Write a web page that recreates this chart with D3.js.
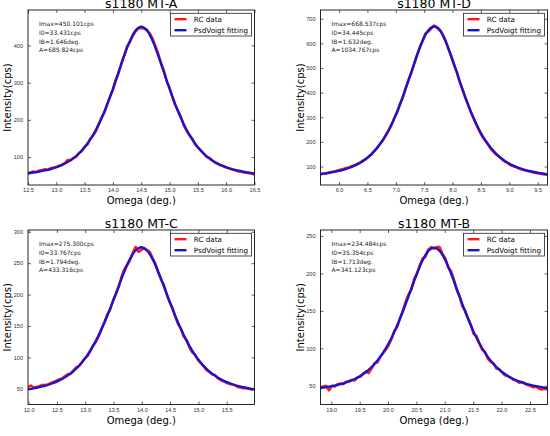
<!DOCTYPE html>
<html>
<head>
<meta charset="utf-8">
<script src="https://cdn.jsdelivr.net/npm/d3@7"></script>
<style>
  body { margin: 0; background: #fff; }
  svg { display: block; font-family: "DejaVu Sans", sans-serif; }
</style>
</head>
<body>
<svg width="550" height="436"></svg>
<script>
// Datos (cps). RC cada 0.05 deg, ajuste cada 0.1 deg
const titulos = ["s1180 MT-A", "s1180 MT-D", "s1180 MT-C", "s1180 MT-B"];
const omegaInicio = [12.5, 5.673, 11.99, 18.81];
const pasoRC = 0.05;
const pasoFit = 0.1;

const rcA = [57, 59, 61, 60, 64, 65, 67, 66, 70, 72, 73, 77, 79, 84, 92, 92, 97, 101, 111, 116,
  128, 134, 149, 158, 170, 188, 206, 220, 243, 263, 281, 307, 326, 352, 374, 397, 409, 426, 438, 446,
  447, 446, 442, 432, 418, 398, 377, 352, 332, 303, 286, 262, 240, 224, 208, 186, 171, 159, 150, 135,
  126, 118, 110, 101, 98, 92, 85, 82, 78, 76, 72, 70, 67, 65, 62, 61, 59, 58, 57, 55, 53];
const fitA = [55.8, 58.1, 60.8, 64.0, 67.8, 72.7, 78.8, 86.6, 96.7, 109.7, 126.4, 147.4, 173.5, 204.9,
  241.8, 283.4, 328.1, 372.7, 412.2, 440.0, 450.1, 440.0, 412.2, 372.7, 328.1, 283.4, 241.8, 204.9,
  173.5, 147.4, 126.4, 109.7, 96.7, 86.6, 78.8, 72.7, 67.8, 64.0, 60.8, 58.1, 55.8];

const rcD = [70, 72, 73, 76, 79, 80, 84, 87, 90, 94, 96, 101, 105, 111, 116, 124, 131, 141, 150, 164,
  176, 193, 206, 227, 246, 268, 296, 320, 353, 380, 418, 452, 480, 516, 552, 584, 612, 640, 648, 660,
  672, 666, 656, 638, 613, 580, 548, 514, 485, 446, 413, 380, 352, 320, 294, 268, 244, 222, 206, 190,
  172, 160, 148, 140, 129, 120, 114, 105, 101, 97, 92, 88, 85, 82, 79, 76, 74, 72, 70, 68, 67];
const fitD = [68.5, 72.0, 76.1, 80.9, 86.8, 94.1, 103.5, 115.3, 130.7, 150.5, 175.9, 207.9, 247.5, 295.4,
  351.5, 414.8, 482.8, 550.7, 610.9, 653.2, 668.5, 653.2, 610.9, 550.7, 482.8, 414.8, 351.5, 295.4,
  247.5, 207.9, 175.9, 150.5, 130.7, 115.3, 103.5, 94.1, 86.8, 80.9, 76.1, 72.0, 68.5];

const rcC = [53, 55, 52, 53, 54, 56, 56, 57, 59, 61, 63, 65, 66, 70, 73, 74, 79, 84, 86, 92,
  98, 102, 110, 119, 125, 134, 146, 156, 168, 176, 190, 200, 212, 228, 240, 247, 255, 266, 276, 268,
  271, 274, 271, 268, 258, 249, 235, 224, 215, 200, 188, 179, 165, 153, 146, 133, 128, 116, 108, 104,
  96, 91, 86, 80, 77, 73, 72, 67, 64, 62, 60, 58, 57, 56, 53, 52, 51, 51, 50, 49, 50];
const fitC = [49.1, 50.7, 52.6, 54.8, 57.6, 61.1, 65.5, 71.0, 77.9, 86.7, 97.7, 110.9, 126.7, 145.2,
  166.2, 189.3, 213.2, 236.4, 256.4, 270.2, 275.3, 270.2, 256.4, 236.4, 213.2, 189.3, 166.2, 145.2,
  126.7, 110.9, 97.7, 86.7, 77.9, 71.0, 65.5, 61.1, 57.6, 54.8, 52.6, 50.7, 49.1];

const rcB = [47, 49, 50, 44, 50, 49, 52, 53, 52, 55, 56, 58, 57, 61, 62, 66, 69, 67, 73, 80,
  81, 88, 93, 98, 104, 112, 123, 128, 140, 150, 162, 172, 178, 192, 200, 211, 220, 222, 232, 235,
  233, 235, 235, 226, 220, 208, 203, 192, 178, 170, 156, 150, 140, 131, 119, 116, 106, 98, 95, 86,
  82, 80, 73, 72, 68, 64, 63, 61, 58, 57, 54, 55, 53, 51, 50, 48, 49, 46, 45, 46, 45];
const fitB = [46.9, 48.1, 49.5, 51.2, 53.2, 55.8, 59.0, 63.1, 68.4, 75.0, 83.5, 94.0, 106.7, 121.9,
  139.4, 158.9, 179.5, 199.8, 217.6, 230.0, 234.5, 230.0, 217.6, 199.8, 179.5, 158.9, 139.4, 121.9,
  106.7, 94.0, 83.5, 75.0, 68.4, 63.1, 59.0, 55.8, 53.2, 51.2, 49.5, 48.1, 46.9];

const anotaciones = [
  ["Imax=450.101cps", "I0=33.431cps", "IB=1.646deg.", "A=685.824cps"],
  ["Imax=668.537cps", "I0=34.445cps", "IB=1.632deg.", "A=1034.767cps"],
  ["Imax=275.300cps", "I0=33.767cps", "IB=1.794deg.", "A=433.316cps"],
  ["Imax=234.484cps", "I0=35.354cps", "IB=1.713deg.", "A=341.123cps"]
];

const xTicks = [
  [12.5, 13.0, 13.5, 14.0, 14.5, 15.0, 15.5, 16.0, 16.5],
  [6.0, 6.5, 7.0, 7.5, 8.0, 8.5, 9.0, 9.5],
  [12.0, 12.5, 13.0, 13.5, 14.0, 14.5, 15.0, 15.5],
  [19.0, 19.5, 20.0, 20.5, 21.0, 21.5, 22.0, 22.5]
];
const yTicks = [
  [100, 200, 300, 400],
  [100, 200, 300, 400, 500, 600, 700],
  [50, 100, 150, 200, 250, 300],
  [50, 100, 150, 200, 250]
];
const yMax = [495.1, 735.4, 302.8, 257.9];
const yMin = 25;

const etiquetas = ["RC data", "PsdVoigt fitting"];
const colores = ["#ff1a1a", "#1414d2"];

const series = [[rcA, fitA], [rcD, fitD], [rcC, fitC], [rcB, fitB]];

// Posición de cada eje en la figura
const columnas = [[28, 254.5], [320.5, 547.5]];
const filas = [[10, 185], [230, 404.5]];

const svg = d3.select("svg");

function dibujarPanel(i) {
    const [x0, x1] = columnas[i % 2];
    const [y0, y1] = filas[Math.floor(i / 2)];

    const x = d3.scaleLinear().domain([omegaInicio[i], omegaInicio[i] + 4]).range([x0, x1]);
    const y = d3.scaleLinear().domain([yMin, yMax[i]]).range([y1, y0]);

    const g = svg.append("g");

    g.append("clipPath").attr("id", "clip" + i)
        .append("rect")
        .attr("x", x0).attr("y", y0)
        .attr("width", x1 - x0).attr("height", y1 - y0);

    const [rc, fit] = series[i];
    const puntosRC = rc.map((v, k) => [omegaInicio[i] + k * pasoRC, v]);
    const puntosFit = fit.map((v, k) => [omegaInicio[i] + k * pasoFit, v]);

    const linea = d3.line().x(d => x(d[0])).y(d => y(d[1]));
    const lineaSuave = d3.line().x(d => x(d[0])).y(d => y(d[1])).curve(d3.curveCatmullRom);

    const curvas = g.append("g").attr("clip-path", `url(#clip${i})`);
    curvas.append("path")
        .attr("d", linea(puntosRC))
        .attr("fill", "none")
        .attr("stroke", colores[0])
        .attr("stroke-width", 2.6)
        .attr("stroke-linejoin", "round");
    curvas.append("path")
        .attr("d", lineaSuave(puntosFit))
        .attr("fill", "none")
        .attr("stroke", colores[1])
        .attr("stroke-width", 2.3);

    // Ejes con marcas hacia dentro en los cuatro lados
    const fmt = d3.format(".1f");
    const ejeX = g.append("g").attr("transform", `translate(0,${y1})`)
        .call(d3.axisBottom(x).tickValues(xTicks[i]).tickFormat(fmt).tickSizeInner(-3).tickSizeOuter(0).tickPadding(3.5));
    const ejeY = g.append("g").attr("transform", `translate(${x0},0)`)
        .call(d3.axisLeft(y).tickValues(yTicks[i]).tickSizeInner(-3).tickSizeOuter(0).tickPadding(5));
    g.append("g").attr("transform", `translate(0,${y0})`)
        .call(d3.axisTop(x).tickValues(xTicks[i]).tickFormat("").tickSizeInner(-3).tickSizeOuter(0));
    g.append("g").attr("transform", `translate(${x1},0)`)
        .call(d3.axisRight(y).tickValues(yTicks[i]).tickFormat("").tickSizeInner(-3).tickSizeOuter(0));

    g.selectAll(".domain").remove();
    g.selectAll(".tick line").attr("stroke", "#222").attr("stroke-width", 0.7);
    [ejeX, ejeY].forEach(e => e.selectAll("text")
        .style("font-size", "5.6px")
        .attr("fill", "#333"));

    g.append("rect")
        .attr("x", x0).attr("y", y0)
        .attr("width", x1 - x0).attr("height", y1 - y0)
        .attr("fill", "none")
        .attr("stroke", "#111")
        .attr("stroke-width", 0.9);

    // Título y etiquetas de ejes
    g.append("text")
        .attr("x", (x0 + x1) / 2).attr("y", y0 - 2)
        .attr("text-anchor", "middle")
        .style("font-size", "12.5px")
        .text(titulos[i]);

    g.append("text")
        .attr("x", (x0 + x1) / 2).attr("y", y1 + 19)
        .attr("text-anchor", "middle")
        .style("font-size", "10px")
        .text("Omega (deg.)");

    g.append("text")
        .attr("transform", `translate(${x0 - 16.7},${(y0 + y1) / 2}) rotate(-90)`)
        .attr("text-anchor", "middle")
        .style("font-size", "10px")
        .text("Intensity(cps)");

    // Texto con los parámetros del ajuste
    g.append("g").selectAll("text")
        .data(anotaciones[i])
        .enter()
        .append("text")
        .attr("x", x0 + 11)
        .attr("y", (d, k) => y0 + 16.2 + k * 8.7)
        .style("font-size", "6px")
        .attr("fill", "#222")
        .text(d => d);

    // Leyenda
    const anchoLeyenda = 81;
    const legend = g.append("g")
        .attr("transform", `translate(${x1 - 3 - anchoLeyenda},${y0 + 3.3})`);
    legend.append("rect")
        .attr("width", anchoLeyenda).attr("height", 22.7)
        .attr("fill", "#fff")
        .attr("stroke", "#222")
        .attr("stroke-width", 0.8);
    const items = legend.selectAll(".legend-item")
        .data(etiquetas)
        .enter()
        .append("g")
        .attr("class", "legend-item")
        .attr("transform", (d, k) => `translate(0,${5.9 + k * 11})`);
    items.append("line")
        .attr("x1", 4).attr("x2", 16)
        .attr("stroke", (d, k) => colores[k])
        .attr("stroke-width", 2.4);
    items.append("text")
        .attr("x", 23.3).attr("y", 2.5)
        .style("font-size", "7.2px")
        .text(d => d);
}

for (let i = 0; i < 4; i++) {
    dibujarPanel(i);
}
</script>
</body>
</html>
